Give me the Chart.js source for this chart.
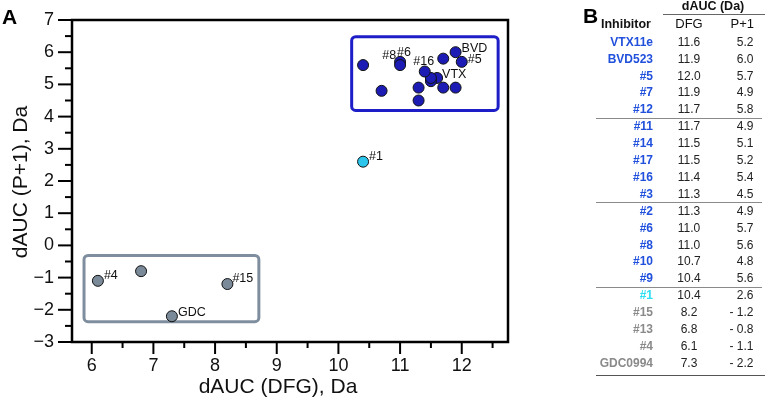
<!DOCTYPE html>
<html lang="en">
<head>
  <meta charset="UTF-8" />
  <title>dAUC DFG vs P+1</title>
  <script src="https://cdn.jsdelivr.net/npm/chart.js"></script>
  <style>
    body {
      margin: 0;
      background: #fff;
      font-family: "Liberation Sans", Arial, sans-serif;
    }
    #wrap {
      position: relative;
      width: 765px;
      height: 401px;
      overflow: hidden;
    }
    canvas {
      position: absolute;
      left: 0;
      top: 0;
    }
    .panel {
      position: absolute;
      font-weight: bold;
      font-size: 21px;
      line-height: 21px;
    }
    .axtitle {
      position: absolute;
      font-size: 21px;
      white-space: nowrap;
      color: #111;
    }
    .cell {
      position: absolute;
      white-space: nowrap;
      font-size: 12px;
      line-height: 14px;
      color: #222;
    }
    .head {
      font-weight: bold;
      font-size: 12.5px;
      color: #111;
    }
    .rule {
      position: absolute;
      height: 0;
    }
  </style>
</head>
<body>
<div id="wrap">
  <canvas id="chart" width="765" height="401"></canvas>
  <div class="panel" style="left:2px; top:6px;">A</div>
  <div class="panel" style="left:583px; top:5px;">B</div>
  <div class="axtitle" style="left:278px; top:386px; transform:translate(-50%,-50%);">dAUC (DFG), Da</div>
  <div class="axtitle" style="left:20px; top:182px; transform:translate(-50%,-50%) rotate(-90deg);">dAUC (P+1), Da</div>
  <div id="table"></div>
</div>

<script>
  // data (same values as the scatter in panel A)
  const inhibitors = ['VTX11e', 'BVD523', '#5', '#7', '#12', '#11', '#14', '#17', '#16', '#3',
                      '#2', '#6', '#8', '#10', '#9', '#1', '#15', '#13', '#4', 'GDC0994'];
  const dfgValues = [11.6, 11.9, 12.0, 11.9, 11.7, 11.7, 11.5, 11.5, 11.4, 11.3,
                     11.3, 11.0, 11.0, 10.7, 10.4, 10.4, 8.2, 6.8, 6.1, 7.3];
  const p1Values = [5.2, 6.0, 5.7, 4.9, 5.8, 4.9, 5.1, 5.2, 5.4, 4.5,
                    4.9, 5.7, 5.6, 4.8, 5.6, 2.6, -1.2, -0.8, -1.1, -2.2];
  const groups = ['blue', 'blue', 'blue', 'blue', 'blue', 'blue', 'blue', 'blue', 'blue', 'blue',
                  'blue', 'blue', 'blue', 'blue', 'blue', 'cyan', 'gray', 'gray', 'gray', 'gray'];
  const pointNames = { 'VTX11e': 'VTX', 'BVD523': 'BVD', '#5': '#5', '#16': '#16', '#8': '#8',
                       '#6': '#6', '#1': '#1', '#15': '#15', '#4': '#4', 'GDC0994': 'GDC' };
  const xTickLabels = [6, 7, 8, 9, 10, 11, 12];
  const yTickLabels = [-3, -2, -1, 0, 1, 2, 3, 4, 5, 6, 7];
  // grouping rectangles in data units: [xMin, xMax, yMin, yMax]
  const blueBox = [10.215, 12.59, 4.19, 6.48];
  const grayBox = [5.875, 8.71, -2.37, -0.31];

  const fills = { blue: '#1c1cb4', cyan: '#2cc6ec', gray: '#7b8a99' };
  const nameColors = { blue: '#2050dc', cyan: '#2ee0f2', gray: '#8a8a8a' };

  // label placement: [dx, dy, align]
  const labelOffsets = {
    'VTX': [5, -3, 'left'], 'BVD': [6, -4, 'left'], '#5': [6, -2, 'left'],
    '#16': [-1, -10, 'center'], '#8': [-4, -10, 'right'], '#6': [-3, -9, 'left'],
    '#1': [6, -5, 'left'], '#15': [5, -5, 'left'], '#4': [6, -5, 'left'], 'GDC': [6, -4, 'left']
  };

  function makeSet(g) {
    const pts = [];
    inhibitors.forEach(function (name, i) {
      if (groups[i] === g) pts.push({ x: dfgValues[i], y: p1Values[i], name: name });
    });
    return {
      label: g,
      data: pts,
      backgroundColor: fills[g],
      borderColor: '#111',
      borderWidth: 1,
      pointRadius: 5.5,
      pointHoverRadius: 5.5
    };
  }

  function roundBox(ctx, x1, y1, x2, y2, r) {
    ctx.beginPath();
    ctx.moveTo(x1 + r, y1);
    ctx.lineTo(x2 - r, y1);
    ctx.arcTo(x2, y1, x2, y1 + r, r);
    ctx.lineTo(x2, y2 - r);
    ctx.arcTo(x2, y2, x2 - r, y2, r);
    ctx.lineTo(x1 + r, y2);
    ctx.arcTo(x1, y2, x1, y2 - r, r);
    ctx.lineTo(x1, y1 + r);
    ctx.arcTo(x1, y1, x1 + r, y1, r);
    ctx.closePath();
  }

  const extras = {
    id: 'extras',
    beforeDatasetsDraw(chart) {
      const ctx = chart.ctx, xs = chart.scales.x, ys = chart.scales.y;
      [[blueBox, '#1e1ec8'], [grayBox, '#7f8e9e']].forEach(function (b) {
        const box = b[0];
        ctx.save();
        ctx.strokeStyle = b[1];
        ctx.lineWidth = 3;
        roundBox(ctx, xs.getPixelForValue(box[0]), ys.getPixelForValue(box[3]),
                 xs.getPixelForValue(box[1]), ys.getPixelForValue(box[2]), 4);
        ctx.stroke();
        ctx.restore();
      });
    },
    afterDraw(chart) {
      const ctx = chart.ctx, a = chart.chartArea;
      const xs = chart.scales.x, ys = chart.scales.y;
      ctx.save();
      // frame
      ctx.strokeStyle = '#000';
      ctx.lineWidth = 2.5;
      ctx.strokeRect(a.left, a.top, a.right - a.left, a.bottom - a.top);
      // tick marks
      ctx.lineWidth = 2;
      xs.ticks.forEach(function (t) {
        const px = xs.getPixelForValue(t.value);
        const len = Number.isInteger(t.value) ? 12 : 6;
        ctx.beginPath();
        ctx.moveTo(px, a.bottom);
        ctx.lineTo(px, a.bottom + len);
        ctx.stroke();
      });
      ys.ticks.forEach(function (t) {
        const py = ys.getPixelForValue(t.value);
        const len = Number.isInteger(t.value) ? 14 : 7;
        ctx.beginPath();
        ctx.moveTo(a.left, py);
        ctx.lineTo(a.left - len, py);
        ctx.stroke();
      });
      // point labels
      ctx.font = '12.5px "Liberation Sans", Arial, sans-serif';
      ctx.fillStyle = '#111';
      ctx.textBaseline = 'middle';
      chart.data.datasets.forEach(function (ds) {
        ds.data.forEach(function (p) {
          const text = pointNames[p.name];
          if (!text) return;
          const off = labelOffsets[text];
          ctx.textAlign = off[2];
          ctx.fillText(text, xs.getPixelForValue(p.x) + off[0], ys.getPixelForValue(p.y) + off[1]);
        });
      });
      ctx.restore();
    }
  };

  const tickFont = { family: '"Liberation Sans", Arial, sans-serif', size: 18 };

  new Chart(document.getElementById('chart'), {
    type: 'scatter',
    data: { datasets: [makeSet('gray'), makeSet('cyan'), makeSet('blue')] },
    options: {
      responsive: false,
      animation: false,
      layout: { autoPadding: false, padding: { left: 0, top: 20, right: 257, bottom: 0 } },
      plugins: { legend: { display: false }, tooltip: { enabled: false } },
      scales: {
        x: {
          type: 'linear',
          min: 5.68,
          max: 12.75,
          grid: { display: false, drawTicks: false },
          border: { display: false },
          ticks: {
            stepSize: 0.5,
            includeBounds: false,
            autoSkip: false,
            maxRotation: 0,
            padding: 13,
            color: '#111',
            font: tickFont,
            callback: function (v) { return xTickLabels.includes(v) ? String(v) : ''; }
          },
          afterFit: function (s) { s.height = 59; s.paddingLeft = 0; s.paddingRight = 0; }
        },
        y: {
          type: 'linear',
          min: -3,
          max: 7,
          grid: { display: false, drawTicks: false },
          border: { display: false },
          ticks: {
            stepSize: 0.5,
            autoSkip: false,
            padding: 18,
            color: '#111',
            font: tickFont,
            callback: function (v) {
              if (!yTickLabels.includes(v)) return '';
              return v < 0 ? '\u2212' + Math.abs(v) : String(v);
            }
          },
          afterFit: function (s) { s.width = 72; s.paddingTop = 0; s.paddingBottom = 0; }
        }
      }
    },
    plugins: [extras]
  });

  // table, panel B
  const table = document.getElementById('table');
  function cell(text, css, cls) {
    const d = document.createElement('div');
    d.className = 'cell' + (cls ? ' ' + cls : '');
    d.textContent = text;
    d.style.cssText = css;
    table.appendChild(d);
    return d;
  }
  function rule(y, x1, x2, w, color) {
    const d = document.createElement('div');
    d.className = 'rule';
    d.style.cssText = 'left:' + x1 + 'px; width:' + (x2 - x1) + 'px; top:' + y + 'px; border-top:' + w + 'px solid ' + color + ';';
    table.appendChild(d);
  }

  cell('dAUC (Da)', 'left:713px; top:6px; transform:translate(-50%,-50%);', 'head');
  rule(13.5, 663, 765, 1, '#666');
  cell('Inhibitor', 'right:114px; top:24px; transform:translateY(-50%);', 'head');
  cell('DFG', 'left:689px; top:24px; transform:translate(-50%,-50%); font-size:13px; color:#111;');
  cell('P+1', 'right:11px; top:24px; transform:translateY(-50%); font-size:13px; color:#111;');

  inhibitors.forEach(function (name, i) {
    const y = 41.7 + i * 16.9;
    const n = cell(name, 'right:112px; top:' + y + 'px; transform:translateY(-50%); font-weight:bold;');
    n.style.color = nameColors[groups[i]];
    cell(dfgValues[i].toFixed(1), 'left:689px; top:' + y + 'px; transform:translate(-50%,-50%);');
    const p = p1Values[i];
    const ptxt = p < 0 ? '- ' + Math.abs(p).toFixed(1) : p.toFixed(1);
    cell(ptxt, 'right:11.5px; top:' + y + 'px; transform:translateY(-50%);');
  });
  rule(117.5, 596, 762, 1, '#8a8a8a');
  rule(202.3, 596, 762, 1, '#8a8a8a');
  rule(287.3, 596, 762, 1, '#8a8a8a');
  rule(374.5, 596, 765, 1.5, '#555');
</script>
</body>
</html>
